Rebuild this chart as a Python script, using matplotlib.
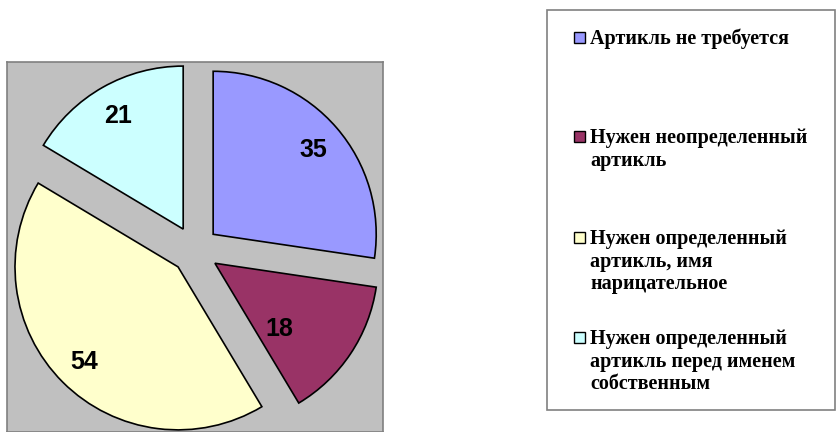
import matplotlib
matplotlib.use("Agg")
import numpy as np
import matplotlib.pyplot as plt
from matplotlib.patches import Rectangle

# ---- data ----
categories = [
    "Артикль не требуется",
    "Нужен неопределенный\nартикль",
    "Нужен определенный\nартикль, имя\nнарицательное",
    "Нужен определенный\nартикль перед именем\nсобственным",
]
values = [35, 18, 54, 21]
colors = ["#9999FF", "#993366", "#FFFFCC", "#CCFFFF"]

# ---- style ----
W, H = 836, 432
explode_frac = 0.147
label_dist = [0.81, 0.56, 0.81, 0.81]
label_dtheta = [0, -11, 0, 0]
label_dy = -0.01

fig = plt.figure(figsize=(W / 100, H / 100), dpi=100)
fig.patch.set_facecolor("white")

# pie plot area (gray)
ax = fig.add_axes([7 / W, 0, 376 / W, 370 / H])
wedges, _ = ax.pie(values, colors=colors, startangle=90, counterclock=False,
                   explode=[explode_frac] * len(values), radius=1.0,
                   wedgeprops=dict(edgecolor="black", linewidth=1.2))
ax.set_aspect("auto")
ax.set_xlim(-1.153, 1.153)
ax.set_ylim(-1.117, 1.153)
ax.set_frame_on(True)
ax.set_facecolor("#C0C0C0")
for s in ax.spines.values():
    s.set_color("#808080")
    s.set_linewidth(1.2)
ax.set_xticks([])
ax.set_yticks([])

for i, (w, v) in enumerate(zip(wedges, values)):
    th = np.deg2rad((w.theta1 + w.theta2) / 2 + label_dtheta[i])
    cx, cy = w.center
    ax.text(cx + label_dist[i] * np.cos(th),
            cy + label_dist[i] * np.sin(th) + label_dy, str(v),
            ha="center", va="center", fontsize=18, fontweight="bold",
            family="Liberation Sans", color="black")

# legend, drawn in pixel coordinates
lg = fig.add_axes([0, 0, 1, 1])
lg.set_xlim(0, W)
lg.set_ylim(H, 0)
lg.axis("off")
lg.patch.set_alpha(0)
lg.add_patch(Rectangle((547, 9.5), 288, 400.5, facecolor="none",
                       edgecolor="#808080", linewidth=1.2))
first_baselines = [44, 143, 244, 344]
line_gap = 22.7
for cat, col, b in zip(categories, colors, first_baselines):
    lg.add_patch(Rectangle((574, b - 12), 11, 11, facecolor=col,
                           edgecolor="black", linewidth=1.0))
    for k, line in enumerate(cat.split("\n")):
        lg.text(590, b + k * line_gap, line, ha="left", va="baseline",
                fontsize=14.5, fontweight="bold", family="Liberation Serif",
                color="black")

fig.savefig("out.png", dpi=100)
